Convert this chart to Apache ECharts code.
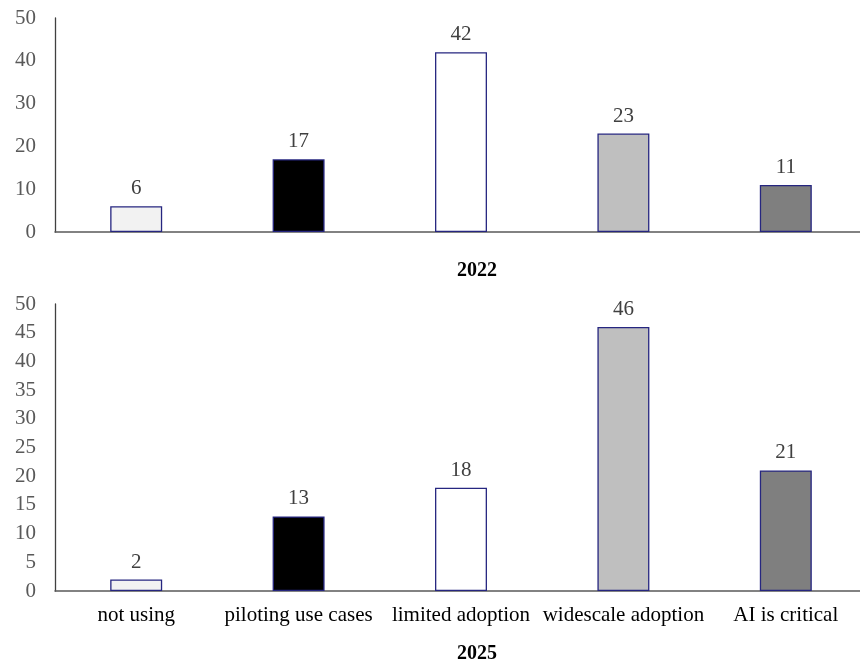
<!DOCTYPE html>
<html>
<head>
<meta charset="utf-8">
<script src="https://cdn.jsdelivr.net/npm/echarts@6/dist/echarts.min.js"></script>
<style>
  html, body { margin: 0; padding: 0; background: #ffffff; }
  #chart { width: 860px; height: 667px; }
</style>
</head>
<body>
<div id="chart"></div>
<script>
// AI adoption stages, share of respondents (%)
const categories = ['not using', 'piloting use cases', 'limited adoption', 'widescale adoption', 'AI is critical'];
const values2022 = [6, 17, 42, 23, 11];
const values2025 = [2, 13, 18, 46, 21];
const barColors = ['#f2f2f2', '#000000', '#ffffff', '#bfbfbf', '#7f7f7f'];
const panelTitles = ['2022', '2025'];

const FONT = '"Liberation Serif", "DejaVu Serif", serif';

function barData(values) {
  return values.map((v, i) => ({ value: v, itemStyle: { color: barColors[i] } }));
}

const chart = echarts.init(document.getElementById('chart'), null, { renderer: 'canvas' });

const yAxisCommon = {
  type: 'value',
  min: 0,
  max: 50,
  axisLine: { show: true, lineStyle: { color: '#404040', width: 1.3 } },
  axisTick: { show: false },
  splitLine: { show: false },
  axisLabel: { color: '#595959', fontFamily: FONT, fontSize: 21, margin: 19 }
};

const xAxisCommon = {
  type: 'category',
  data: categories,
  axisLine: { show: true, lineStyle: { color: '#595959', width: 1.5 } },
  axisTick: { show: false }
};

const seriesCommon = {
  type: 'bar',
  barWidth: '32%',
  itemStyle: { borderColor: '#262680', borderWidth: 1.3 },
  label: { show: true, position: 'top', distance: 7, color: '#404040', fontFamily: FONT, fontSize: 21 }
};

const titleStyle = { fontFamily: FONT, fontSize: 20, fontWeight: 'bold', color: '#000000' };

chart.setOption({
  animation: false,
  title: [
    { text: panelTitles[0], left: 477, top: 261, textAlign: 'center', padding: 0, textStyle: titleStyle },
    { text: panelTitles[1], left: 477, top: 644, textAlign: 'center', padding: 0, textStyle: titleStyle }
  ],
  // the plot area runs slightly past the right edge of the canvas
  grid: [
    { left: 55, width: 812, top: 18, height: 214, outerBoundsMode: 'none' },
    { left: 55, width: 812, top: 304, height: 287, outerBoundsMode: 'none' }
  ],
  xAxis: [
    Object.assign({}, xAxisCommon, { gridIndex: 0, axisLabel: { show: false } }),
    Object.assign({}, xAxisCommon, { gridIndex: 1,
      axisLabel: { color: '#000000', fontFamily: FONT, fontSize: 21, margin: 14, interval: 0 } })
  ],
  yAxis: [
    Object.assign({}, yAxisCommon, { gridIndex: 0, interval: 10 }),
    Object.assign({}, yAxisCommon, { gridIndex: 1, interval: 5 })
  ],
  series: [
    Object.assign({}, seriesCommon, { xAxisIndex: 0, yAxisIndex: 0, data: barData(values2022) }),
    Object.assign({}, seriesCommon, { xAxisIndex: 1, yAxisIndex: 1, data: barData(values2025) })
  ]
});
</script>
</body>
</html>
